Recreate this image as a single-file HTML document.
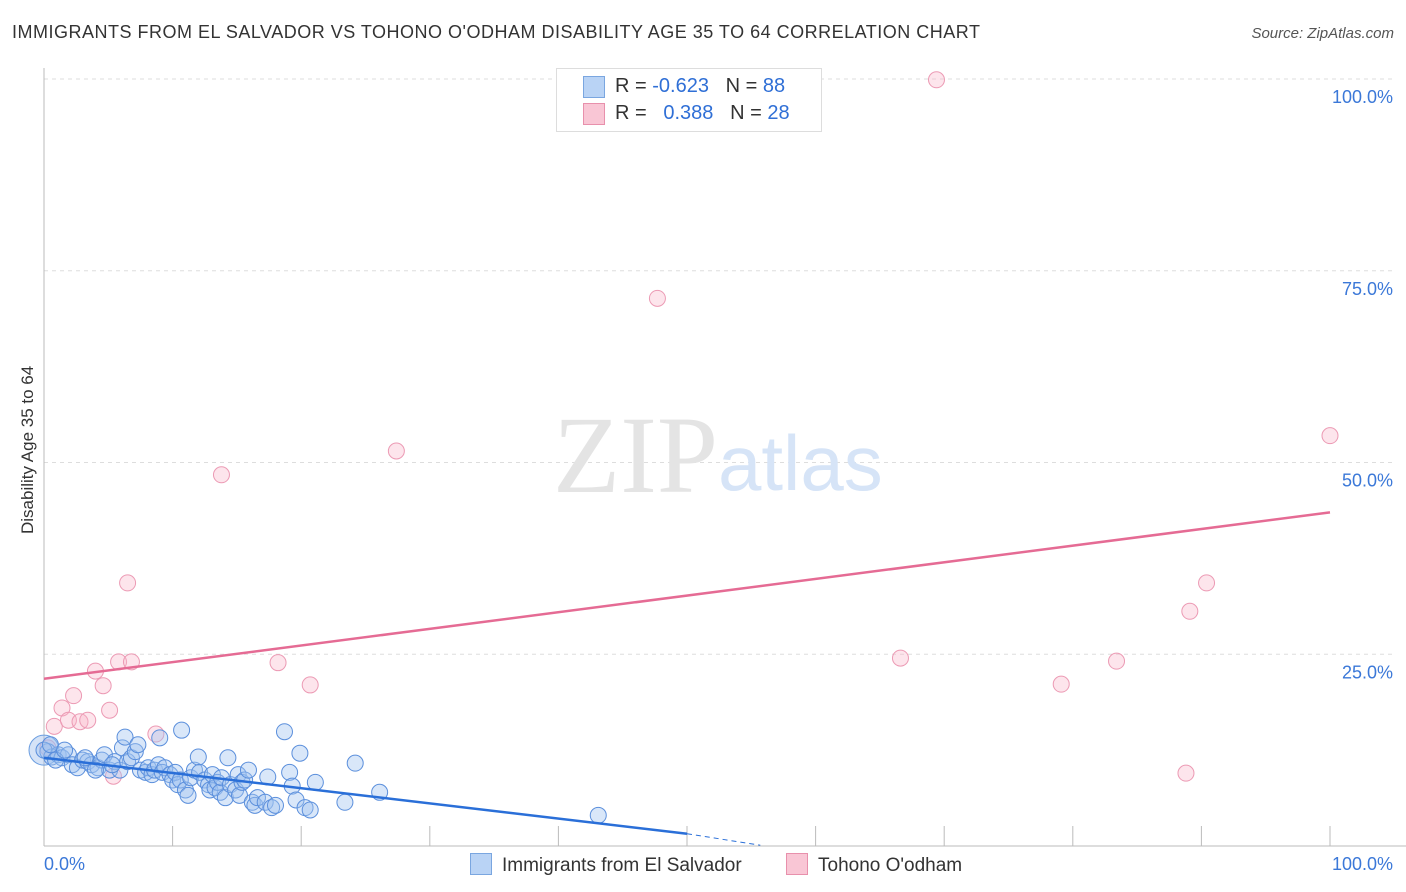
<!DOCTYPE html>
<html><head><meta charset="utf-8"><style>
body{margin:0;background:#fff;font-family:"Liberation Sans",sans-serif}
#c{position:relative;width:1406px;height:892px;overflow:hidden}
.t{position:absolute;white-space:nowrap}
</style></head><body>
<div id="c">
<div class="t" style="left:12px;top:22px;font-size:18px;color:#333;letter-spacing:0.5px">IMMIGRANTS FROM EL SALVADOR VS TOHONO O'ODHAM DISABILITY AGE 35 TO 64 CORRELATION CHART</div>
<div class="t" style="right:12px;top:25px;font-size:15px;color:#555;font-style:italic">Source: ZipAtlas.com</div>
<div class="t" style="left:-52px;top:444px;font-size:17px;color:#333;transform:rotate(-90deg);width:160px;text-align:center">Disability Age 35 to 64</div>
<svg id="s" width="1406" height="892" style="position:absolute;left:0;top:0"></svg>
<div class="t" style="left:556px;top:68px;width:264px;height:62px;border:1px solid #ddd;background:#fff;font-size:20px">
 <div style="position:absolute;left:26px;top:7px;width:20px;height:20px;background:#b9d3f5;border:1px solid #7aa6e0"></div>
 <div style="position:absolute;left:58px;top:6px;color:#333">R = <span style="color:#2f6fd6">-0.623</span>&nbsp;&nbsp;&nbsp;N = <span style="color:#2f6fd6">88</span></div>
 <div style="position:absolute;left:26px;top:34px;width:20px;height:20px;background:#f9c6d5;border:1px solid #e890ac"></div>
 <div style="position:absolute;left:58px;top:33px;color:#333">R = &nbsp;&nbsp;<span style="color:#2f6fd6">0.388</span>&nbsp;&nbsp;&nbsp;N = <span style="color:#2f6fd6">28</span></div>
</div>
<div class="t" style="left:470px;top:853px;font-size:19px;color:#333"><span style="display:inline-block;width:20px;height:20px;background:#b9d3f5;border:1px solid #7aa6e0;vertical-align:-4px;margin-right:10px"></span>Immigrants from El Salvador</div>
<div class="t" style="left:786px;top:853px;font-size:19px;color:#333"><span style="display:inline-block;width:20px;height:20px;background:#f9c6d5;border:1px solid #e890ac;vertical-align:-4px;margin-right:10px"></span>Tohono O'odham</div>
</div>
<script>
const blueX=[0.3,0.6,1.1,1.4,1.9,2.2,2.6,3.0,3.4,3.7,4.2,4.5,4.7,5.1,5.5,5.9,6.1,6.3,6.5,6.8,7.1,7.3,7.5,7.9,8.1,8.4,8.6,8.9,9.0,9.2,9.4,9.8,10.0,10.2,10.4,10.6,10.7,11.0,11.2,11.4,11.7,12.0,12.1,12.5,12.8,12.9,13.1,13.3,13.5,13.7,13.8,14.1,14.3,14.5,14.9,15.1,15.2,15.4,15.6,15.9,16.2,16.4,16.6,17.2,17.4,17.7,18.0,18.7,19.1,19.3,19.6,19.9,20.3,20.7,21.1,23.4,24.2,26.1,43.1,0.0,0.5,0.9,1.6,3.2,4.0,5.3];
const blueY=[12.3,11.6,11.9,11.5,11.9,10.6,10.2,11.2,11.0,10.6,10.2,11.2,11.9,9.9,11.0,9.9,12.8,14.2,11.0,11.5,12.3,13.2,9.9,9.6,10.2,9.3,9.9,10.6,14.1,9.6,10.2,9.3,8.6,9.6,8.0,8.6,15.1,7.3,6.6,8.9,9.9,11.6,9.6,8.6,8.0,7.3,9.3,7.6,8.3,7.0,8.9,6.3,11.5,8.0,7.3,9.3,6.6,8.3,8.6,9.9,5.7,5.3,6.3,5.7,9.0,5.0,5.3,14.9,9.6,7.8,6.0,12.1,5.0,4.7,8.3,5.7,10.8,7.0,4.0,12.5,13.2,11.2,12.5,11.5,9.9,10.6];
const pinkX=[69.4,47.7,27.4,13.8,100,6.5,90.4,89.1,66.6,83.4,79.1,88.8,18.2,20.7,5.8,6.8,4.0,4.6,2.3,1.4,0.8,1.9,2.8,3.4,5.1,8.7,5.4,0.3];
const pinkY=[99.9,71.4,51.5,48.4,53.5,34.3,34.3,30.6,24.5,24.1,21.1,9.5,23.9,21.0,24.0,24.0,22.8,20.9,19.6,18.0,15.6,16.4,16.2,16.4,17.7,14.6,9.1,12.8];
const yTicks=[25,50,75,100];
const yTickLabels=["25.0%","50.0%","75.0%","100.0%"];
const xTickVals=[10,20,30,40,50,60,70,80,90,100];
const blueLine={x0:0,y0:11.5,x1:50,y1:1.6,xd:55.7,yd:0.1};
const pinkLine={x0:0,y0:21.8,x1:100,y1:43.5};
const X=v=>44+v*12.86, Y=v=>846-v*7.67;
const s=document.getElementById('s');const NS='http://www.w3.org/2000/svg';
function mk(t,a,name){const e=document.createElementNS(NS,t);for(const k in a)e.setAttribute(k,a[k]);


s.appendChild(e);return e;}
yTicks.forEach((v,i)=>{mk('line',{x1:44,x2:1395,y1:Y(v),y2:Y(v),stroke:'#ddd','stroke-dasharray':'4,4'},'gridline');
const t=mk('text',{x:1393,y:Y(v)+24,'text-anchor':'end','font-size':18,fill:'#3b78d8','font-family':'Liberation Sans'},'y-tick-label');t.textContent=yTickLabels[i];});
mk('line',{x1:44,x2:44,y1:68,y2:846,stroke:'#bbb'},'y-axis');
mk('line',{x1:44,x2:1406,y1:846,y2:846,stroke:'#bbb'},'x-axis');
xTickVals.forEach(v=>mk('line',{x1:X(v),x2:X(v),y1:826,y2:846,stroke:'#bbb'},'x-tick'));
let t=mk('text',{x:44,y:870,'font-size':18,fill:'#3b78d8','font-family':'Liberation Sans'},'x-tick-label');t.textContent='0.0%';
t=mk('text',{x:1393,y:870,'text-anchor':'end','font-size':18,fill:'#3b78d8','font-family':'Liberation Sans'},'x-tick-label');t.textContent='100.0%';
t=mk('text',{x:553,y:492,'font-size':110,fill:'#e4e4e4','font-family':'Liberation Serif'},'watermark-zip');t.textContent='ZIP';
t=mk('text',{x:718,y:490,'font-size':78,fill:'#d6e4f7','font-family':'Liberation Sans'},'watermark-atlas');t.textContent='atlas';
pinkX.forEach((v,i)=>mk('circle',{cx:X(v),cy:Y(pinkY[i]),r:8,fill:'rgba(248,180,200,0.35)',stroke:'#ec9ab4','stroke-width':1},'pink-point'));
mk('circle',{cx:X(0),cy:Y(12.5),r:15,fill:'rgba(150,185,235,0.4)',stroke:'#6a9de0'},'blue-point-large');
blueX.forEach((v,i)=>mk('circle',{cx:X(v),cy:Y(blueY[i]),r:8,fill:'rgba(160,195,240,0.4)',stroke:'#5b8fdc','stroke-width':1},'blue-point'));
mk('line',{x1:X(blueLine.x0),y1:Y(blueLine.y0),x2:X(blueLine.x1),y2:Y(blueLine.y1),stroke:'#2a6fd8','stroke-width':2.5},'blue-trend-line');
mk('line',{x1:X(blueLine.x1),y1:Y(blueLine.y1),x2:X(blueLine.xd),y2:Y(blueLine.yd),stroke:'#2a6fd8','stroke-width':1,'stroke-dasharray':'5,4'},'blue-trend-extension');
mk('line',{x1:X(pinkLine.x0),y1:Y(pinkLine.y0),x2:X(pinkLine.x1),y2:Y(pinkLine.y1),stroke:'#e56b94','stroke-width':2.5},'pink-trend-line');
</script>
</body></html>
